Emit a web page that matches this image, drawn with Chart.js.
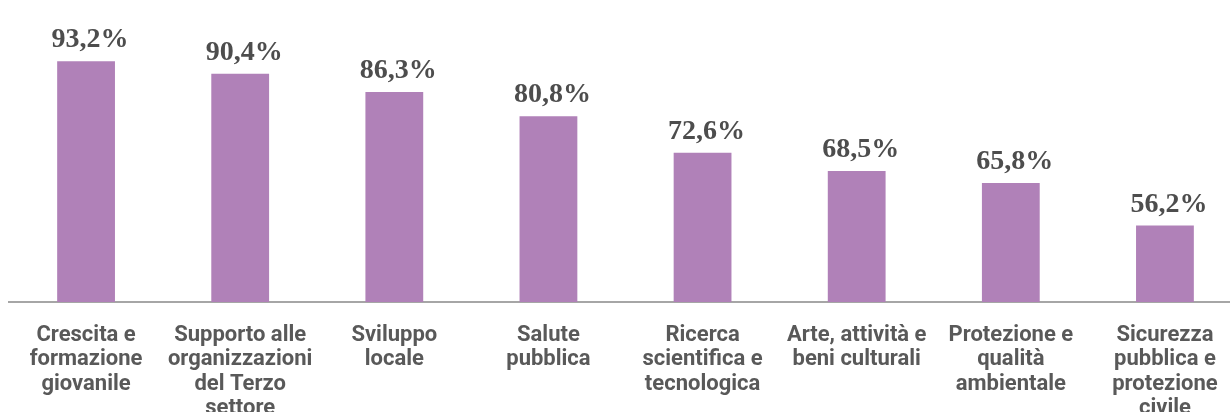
<!DOCTYPE html>
<html>
<head>
<meta charset="utf-8">
<script src="https://cdn.jsdelivr.net/npm/chart.js@4.4.1/dist/chart.umd.min.js"></script>
<style>
  html, body { margin: 0; padding: 0; background: #fff; overflow: hidden; }
  #wrap { width: 1230px; height: 412px; overflow: hidden; }
</style>
</head>
<body>
<div id="wrap"><canvas id="chart" width="1242" height="442"></canvas></div>
<script>
const categories = [
  ['Crescita e', 'formazione', 'giovanile'],
  ['Supporto alle', 'organizzazioni', 'del Terzo', 'settore'],
  ['Sviluppo', 'locale'],
  ['Salute', 'pubblica'],
  ['Ricerca', 'scientifica e', 'tecnologica'],
  ['Arte, attività e', 'beni culturali'],
  ['Protezione e', 'qualità', 'ambientale'],
  ['Sicurezza', 'pubblica e', 'protezione', 'civile']
];
const values = [93.2, 90.4, 86.3, 80.8, 72.6, 68.5, 65.8, 56.2];
const valueLabels = ['93,2%', '90,4%', '86,3%', '80,8%', '72,6%', '68,5%', '65,8%', '56,2%'];

// value labels above each bar
const barLabels = {
  id: 'barLabels',
  afterDatasetsDraw(chart) {
    const ctx = chart.ctx;
    const meta = chart.getDatasetMeta(0);
    ctx.save();
    ctx.font = 'bold 28px "Liberation Serif", serif';
    ctx.fillStyle = '#4d4d4d';
    ctx.textAlign = 'center';
    ctx.textBaseline = 'alphabetic';
    meta.data.forEach((bar, i) => {
      ctx.fillText(valueLabels[i], bar.x + 4, bar.y - 14);
    });
    ctx.restore();
  }
};

new Chart(document.getElementById('chart').getContext('2d'), {
  type: 'bar',
  data: {
    labels: categories,
    datasets: [{
      data: values,
      backgroundColor: '#b081b8',
      borderWidth: 0,
      barPercentage: 0.75,
      categoryPercentage: 0.5
    }]
  },
  options: {
    responsive: false,
    animation: false,
    devicePixelRatio: 1,
    layout: { padding: { left: 9, right: 0, top: 0, bottom: 0 } },
    plugins: { legend: { display: false }, tooltip: { enabled: false } },
    scales: {
      x: {
        grid: { display: false, drawTicks: false },
        border: { display: true, color: '#a6a6a6', width: 2 },
        ticks: {
          color: '#595959',
          font: { family: 'Roboto', weight: 'bold', size: 22, lineHeight: 1.114 },
          padding: 21,
          maxRotation: 0,
          minRotation: 0,
          autoSkip: false
        }
      },
      y: {
        display: false,
        min: 39,
        max: 107
      }
    }
  },
  plugins: [barLabels]
});
</script>
</body>
</html>
